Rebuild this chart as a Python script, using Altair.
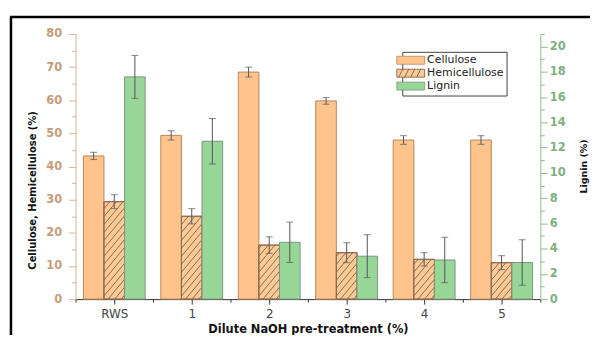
import json
import numpy as np
import pandas as pd
import altair as alt

# ---------------- data ----------------
categories = ["RWS", "1", "2", "3", "4", "5"]
series_names = ["Cellulose", "Hemicellulose", "Lignin"]
cellulose = [43.2, 49.4, 68.5, 59.8, 48.0, 48.0]
cellulose_err = [1.1, 1.4, 1.5, 1.0, 1.3, 1.3]
hemicellulose = [29.4, 25.0, 16.3, 14.0, 12.0, 11.0]
hemicellulose_err = [2.1, 2.3, 2.5, 3.0, 2.0, 2.1]
lignin = [17.6, 12.5, 4.5, 3.4, 3.1, 2.9]
lignin_err = [1.7, 1.8, 1.6, 1.7, 1.8, 1.8]
left_ticks = list(range(0, 81, 5))
right_ticks = list(range(0, 22, 1))

# ---------------- styles ----------------
FONT = "DejaVu Sans"
W, H = 468, 267
BAR = 0.266
CEL_FILL, CEL_STROKE = "#FFC48C", "#B8865E"
HEMI_FILL, HEMI_STROKE, HATCH = "#FCCA96", "#8E6A50", "#7B5236"
LIG_FILL, LIG_STROKE = "#98D698", "#7D957D"
ERR = "#555555"
TAN_AX, TAN_LAB = "#D9B48F", "#C49E79"
GRN_AX, GRN_LAB = "#8CBD8C", "#7DB07D"

pos = np.arange(len(categories), dtype=float)
df = pd.DataFrame({
    "pos": pos,
    "c_l": pos - 1.5 * BAR, "c_r": pos - 0.5 * BAR, "c_m": pos - BAR,
    "h_l": pos - 0.5 * BAR, "h_r": pos + 0.5 * BAR, "h_m": pos,
    "g_l": pos + 0.5 * BAR, "g_r": pos + 1.5 * BAR, "g_m": pos + BAR,
    "cel": cellulose,
    "cel_lo": np.array(cellulose) - np.array(cellulose_err),
    "cel_hi": np.array(cellulose) + np.array(cellulose_err),
    "hem": hemicellulose,
    "hem_lo": np.array(hemicellulose) - np.array(hemicellulose_err),
    "hem_hi": np.array(hemicellulose) + np.array(hemicellulose_err),
    "lig": lignin,
    "lig_lo": np.array(lignin) - np.array(lignin_err),
    "lig_hi": np.array(lignin) + np.array(lignin_err),
    "zero": 0.0,
})

# hatch segments derived from the hemicellulose bars
px_x = W / len(categories)
px_y = H / 80.0
slope = 1.2 * px_x / px_y
step = 8.0 / px_y
segs = []
for i, v in enumerate(hemicellulose):
    xl, xr = df.h_l[i], df.h_r[i]
    w = xr - xl
    b = -slope * w + step * 0.5
    while b < v:
        x0 = max(xl, xl + (0 - b) / slope)
        x1 = min(xr, xl + (v - b) / slope)
        if x1 > x0 + 1e-9:
            segs.append({"x0": x0, "x1": x1,
                         "y0": b + slope * (x0 - xl), "y1": b + slope * (x1 - xl)})
        b += step
hatch = pd.DataFrame(segs)

# ---------------- scales & axes ----------------
x_title = "Dilute NaOH pre-treatment (%)"
yl_title = "Cellulose, Hemicellulose (%)"
yr_title = "Lignin (%)"
x_scale = alt.Scale(domain=[-0.5, len(categories) - 0.5], nice=False, zero=False)
yl_scale = alt.Scale(domain=[0, 80], nice=False)
yr_scale = alt.Scale(domain=[0, 21], nice=False)

x_vals = [i * 0.5 - 0.5 for i in range(2 * len(categories) + 1)]
cat_js = json.dumps(categories)
x_axis = alt.Axis(
    values=x_vals,
    labelExpr=f"datum.value % 1 === 0 ? {cat_js}[datum.value] : ''",
    grid=False,
    tickSize={"condition": {"test": "datum.value % 1 === 0", "value": 5}, "value": 3},
    domainColor="#333", tickColor="#333", labelColor="#444",
    labelFont=FONT, labelFontSize=12, labelPadding=5,
    titleFont=FONT, titleFontSize=11.5, titleFontWeight="bold", titleColor="#111",
    titleY=31, titleBaseline="middle",
)
yl_axis = alt.Axis(
    values=left_ticks,
    labelExpr="datum.value % 10 === 0 ? datum.label : ''",
    grid=False,
    tickSize={"condition": {"test": "datum.value % 10 === 0", "value": 7}, "value": 4},
    domainColor=TAN_AX, tickColor=TAN_AX, labelColor=TAN_LAB,
    labelFont=FONT, labelFontSize=11.5, labelFontWeight="bold", labelPadding=7,
    titleFont=FONT, titleFontSize=10, titleFontWeight="bold", titleColor="#111",
    titleAngle=270, titleX=-43, titleY=157, titleBaseline="middle",
)
yr_axis = alt.Axis(
    orient="right",
    values=right_ticks,
    labelExpr="datum.value % 2 === 0 ? datum.label : ''",
    grid=False,
    tickSize={"condition": {"test": "datum.value % 2 === 0", "value": 7}, "value": 4},
    domainColor=GRN_AX, tickColor=GRN_AX, labelColor=GRN_LAB,
    labelFont=FONT, labelFontSize=11.5, labelFontWeight="bold", labelPadding=2,
    titleFont=FONT, titleFontSize=9.5, titleFontWeight="bold", titleColor="#111",
    titleAngle=270, titleX=43, titleY=133, titleBaseline="middle",
)


def xenc(field):
    return alt.X(f"{field}:Q", scale=x_scale, axis=x_axis, title=x_title)


def ylenc(field):
    return alt.Y(f"{field}:Q", scale=yl_scale, axis=yl_axis, title=yl_title)


def yrenc(field):
    return alt.Y(f"{field}:Q", scale=yr_scale, axis=yr_axis, title=yr_title)


def errbars(lo, hi, mid, yenc):
    base = alt.Chart(df)
    rule = base.mark_rule(color=ERR, strokeWidth=1).encode(
        x=xenc(mid), y=yenc(lo), y2=alt.Y2(f"{hi}:Q"))
    lo_t = base.mark_tick(color=ERR, orient="horizontal", size=7, thickness=1).encode(
        x=xenc(mid), y=yenc(lo))
    hi_t = base.mark_tick(color=ERR, orient="horizontal", size=7, thickness=1).encode(
        x=xenc(mid), y=yenc(hi))
    return [rule, lo_t, hi_t]


base = alt.Chart(df)
cel_bars = base.mark_bar(fill=CEL_FILL, stroke=CEL_STROKE, strokeWidth=1).encode(
    x=xenc("c_l"), x2="c_r:Q", y=ylenc("cel"), y2="zero:Q")
hem_bars = base.mark_bar(fill=HEMI_FILL, stroke=HEMI_STROKE, strokeWidth=1).encode(
    x=xenc("h_l"), x2="h_r:Q", y=ylenc("hem"), y2="zero:Q")
hatch_rules = alt.Chart(hatch).mark_rule(color=HATCH, strokeWidth=0.8).encode(
    x=xenc("x0"), x2="x1:Q", y=ylenc("y0"), y2="y1:Q")
hem_outline = base.mark_bar(fill=None, filled=False, stroke=HEMI_STROKE, strokeWidth=1).encode(
    x=xenc("h_l"), x2="h_r:Q", y=ylenc("hem"), y2="zero:Q")
lig_bars = base.mark_bar(fill=LIG_FILL, stroke=LIG_STROKE, strokeWidth=1).encode(
    x=xenc("g_l"), x2="g_r:Q", y=yrenc("lig"), y2="zero:Q")

# frame
frame_src = alt.Data(values=[{"f": 1}])
frame_left = alt.Chart(frame_src).mark_rule(color="black", strokeWidth=2.5).encode(
    x=alt.value(-65), y=alt.value(-17), y2=alt.value(330))
frame_top = alt.Chart(frame_src).mark_rule(color="black", strokeWidth=2.5).encode(
    x=alt.value(-66), x2=alt.value(560), y=alt.value(-17))

# legend (driven by an invisible point layer)
rect_p = "M-2.8,-0.8H2.8V0.8H-2.8Z"
hatch_p = rect_p + " M-2.4,0.8L-1.6,-0.8 M-1.2,0.8L-0.4,-0.8 M0,0.8L0.8,-0.8 M1.2,0.8L2,-0.8"
legend = alt.Legend(
    orient="none", legendX=329, legendY=18, title=None,
    symbolSize=100, symbolOpacity=1, symbolStrokeWidth=0.8,
    labelFont=FONT, labelFontSize=11, labelColor="#222", labelOffset=11,
    rowPadding=0, padding=3, strokeColor="#444", fillColor="white",
)
leg_df = pd.DataFrame({"series": series_names})
legend_pts = alt.Chart(leg_df).mark_point(filled=True, opacity=0).encode(
    fill=alt.Fill("series:N", scale=alt.Scale(domain=series_names,
                  range=[CEL_FILL, HEMI_FILL, LIG_FILL]), legend=legend),
    stroke=alt.Stroke("series:N", scale=alt.Scale(domain=series_names,
                      range=[CEL_STROKE, HATCH, LIG_STROKE]), legend=legend),
    shape=alt.Shape("series:N", scale=alt.Scale(domain=series_names,
                    range=[rect_p, hatch_p, rect_p]), legend=legend),
)

left = alt.layer(cel_bars, hem_bars, hatch_rules, hem_outline,
                 *errbars("cel_lo", "cel_hi", "c_m", ylenc),
                 *errbars("hem_lo", "hem_hi", "h_m", ylenc),
                 frame_left, frame_top)
right = alt.layer(lig_bars, *errbars("lig_lo", "lig_hi", "g_m", yrenc), legend_pts)

chart = alt.layer(left, right).resolve_scale(y="independent").properties(
    width=W, height=H,
    padding={"left": 68, "top": 25, "right": 50, "bottom": 35},
    autosize=alt.AutoSizeParams(type="none"),
    background="white",
).configure_view(stroke=None)

chart.save("out.html", embed_options={"renderer": "svg", "actions": False})
